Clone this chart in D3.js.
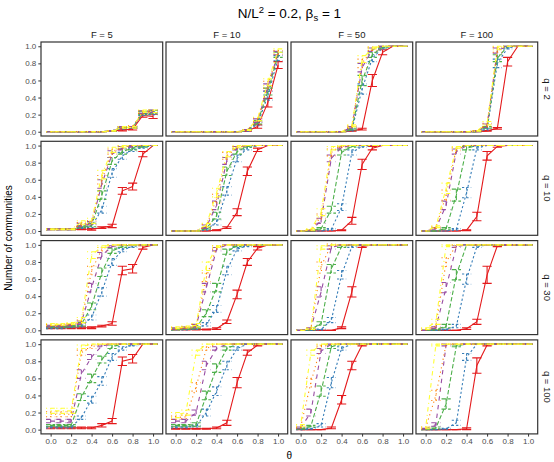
<!DOCTYPE html>
<html>
<head>
<meta charset="utf-8">
<script src="https://cdn.jsdelivr.net/npm/d3@7"></script>
<style>
  body { margin: 0; background: #fff; }
  text { font-family: "Liberation Sans", Arial, Helvetica, sans-serif; }
</style>
</head>
<body>
<svg id="chart" width="554" height="462"></svg>
<script>
// Proportion of communities vs theta, faceted by F (columns) and q (rows).
const theta = [0, 0.1, 0.2, 0.3, 0.4, 0.5, 0.6, 0.7, 0.8, 0.9, 1.0];
const fLabels = ["F = 5", "F = 10", "F = 50", "F = 100"];
const qLabels = ["q = 2", "q = 10", "q = 30", "q = 100"];
const axisTicks = [0, 0.2, 0.4, 0.6, 0.8, 1.0];
const seriesColors = ["#E41A1C", "#377EB8", "#4DAF4A", "#984EA3", "#FF7F00", "#FFFF33"];
const seriesDash = [null, "2.2,2.2", "4.4,2.2", "4.4,4.4", "1.1,3.3", "1.1,3.3,4.4,3.3"];

// Means, one row per series (red, blue, green, purple, orange, yellow)
const f5q2 = [
  [0,0,0,0,0,0,0.01,0.02,0.03,0.19,0.18],
  [0,0,0,0,0,0,0.01,0.04,0.05,0.21,0.22],
  [0,0,0,0,0,0,0.01,0.05,0.05,0.22,0.23],
  [0,0,0,0,0,0,0.01,0.05,0.05,0.23,0.24],
  [0,0,0,0,0,0,0.01,0.05,0.06,0.23,0.24],
  [0,0,0,0,0,0,0.01,0.05,0.05,0.24,0.24]];
const f10q2 = [
  [0,0,0,0,0,0,0,0.01,0.06,0.34,0.78],
  [0,0,0,0,0,0,0,0.01,0.09,0.42,0.86],
  [0,0,0,0,0,0,0,0.02,0.11,0.47,0.90],
  [0,0,0,0,0,0,0,0.02,0.13,0.52,0.92],
  [0,0,0,0,0,0,0,0.02,0.14,0.55,0.93],
  [0,0,0,0,0,0,0,0.02,0.15,0.58,0.95]];
const f50q2 = [
  [0,0,0,0,0,0.01,0.03,0.60,0.93,1,1],
  [0,0,0,0,0,0.02,0.50,0.86,0.98,1,1],
  [0,0,0,0,0,0.03,0.60,0.90,0.99,1,1],
  [0,0,0,0,0,0.05,0.75,0.96,1,1,1],
  [0,0,0,0,0,0.06,0.80,0.97,1,1,1],
  [0,0,0,0,0,0.07,0.85,0.98,1,1,1]];
const f100q2 = [
  [0,0,0,0,0,0,0.01,0.04,0.82,1,1],
  [0,0,0,0,0,0,0.03,0.80,0.98,1,1],
  [0,0,0,0,0,0,0.05,0.86,1,1,1],
  [0,0,0,0,0,0.01,0.07,0.95,1,1,1],
  [0,0,0,0,0,0.01,0.08,0.96,1,1,1],
  [0,0,0,0,0,0.01,0.10,0.98,1,1,1]];

const f5q10 = [
  [0.02,0.02,0.02,0.02,0.02,0.04,0.06,0.47,0.52,0.90,1],
  [0.02,0.02,0.02,0.04,0.06,0.25,0.68,0.88,0.95,0.98,1],
  [0.02,0.02,0.02,0.05,0.07,0.42,0.82,0.93,0.97,0.99,1],
  [0.02,0.02,0.02,0.07,0.09,0.55,0.90,0.97,0.99,1,1],
  [0.02,0.02,0.02,0.08,0.10,0.60,0.93,0.98,1,1,1],
  [0.02,0.02,0.02,0.10,0.12,0.66,0.95,0.99,1,1,1]];
const f10q10 = [
  [0,0,0,0,0.01,0.04,0.22,0.70,0.95,1,1],
  [0,0,0,0.02,0.10,0.47,0.85,0.97,1,1,1],
  [0,0,0,0.03,0.18,0.70,0.93,0.99,1,1,1],
  [0,0,0,0.05,0.30,0.82,0.97,1,1,1,1],
  [0,0,0,0.06,0.38,0.88,0.98,1,1,1,1],
  [0,0,0,0.07,0.45,0.90,0.99,1,1,1,1]];
const f50q10 = [
  [0,0,0,0,0.01,0.12,0.78,0.97,1,1,1],
  [0,0,0,0.02,0.28,0.92,0.99,1,1,1,1],
  [0,0,0.03,0.25,0.92,0.99,1,1,1,1,1],
  [0,0.01,0.12,0.85,0.98,1,1,1,1,1,1],
  [0,0.01,0.17,0.92,0.99,1,1,1,1,1,1],
  [0,0.02,0.22,0.97,1,1,1,1,1,1,1]];
const f100q10 = [
  [0,0,0,0,0.01,0.17,0.88,0.99,1,1,1],
  [0,0,0,0.02,0.45,0.97,1,1,1,1,1],
  [0,0,0.03,0.42,0.97,1,1,1,1,1,1],
  [0,0.03,0.30,0.93,1,1,1,1,1,1,1],
  [0,0.04,0.42,0.96,1,1,1,1,1,1,1],
  [0,0.05,0.50,0.98,1,1,1,1,1,1,1]];

const f5q30 = [
  [0.03,0.03,0.03,0.03,0.03,0.05,0.08,0.70,0.72,0.97,1],
  [0.03,0.03,0.04,0.05,0.15,0.45,0.80,0.94,0.98,1,1],
  [0.04,0.04,0.05,0.07,0.28,0.68,0.93,0.98,1,1,1],
  [0.05,0.05,0.06,0.09,0.50,0.88,0.98,1,1,1,1],
  [0.06,0.06,0.07,0.10,0.70,0.95,1,1,1,1,1],
  [0.07,0.07,0.08,0.12,0.88,0.98,1,1,1,1,1]];
const f10q30 = [
  [0.01,0.01,0.01,0.01,0.02,0.10,0.42,0.80,0.96,1,1],
  [0.01,0.01,0.02,0.07,0.25,0.70,0.95,0.99,1,1,1],
  [0.01,0.02,0.03,0.20,0.50,0.92,0.99,1,1,1,1],
  [0.02,0.03,0.05,0.50,0.95,1,1,1,1,1,1],
  [0.02,0.03,0.05,0.62,0.97,1,1,1,1,1,1],
  [0.03,0.04,0.06,0.75,0.98,1,1,1,1,1,1]];
const f50q30 = [
  [0,0,0,0,0.03,0.45,0.98,1,1,1,1],
  [0,0,0.01,0.12,0.65,0.98,1,1,1,1,1],
  [0,0.01,0.08,0.72,0.98,1,1,1,1,1,1],
  [0,0.02,0.45,0.97,1,1,1,1,1,1,1],
  [0,0.02,0.75,1,1,1,1,1,1,1,1],
  [0,0.02,0.97,1,1,1,1,1,1,1,1]];
const f100q30 = [
  [0,0,0,0,0.02,0.10,0.65,0.99,1,1,1],
  [0,0,0.01,0.05,0.60,0.98,1,1,1,1,1],
  [0,0.01,0.05,0.65,1,1,1,1,1,1,1],
  [0,0.03,0.50,0.98,1,1,1,1,1,1,1],
  [0.01,0.05,0.80,1,1,1,1,1,1,1,1],
  [0.02,0.10,0.99,1,1,1,1,1,1,1,1]];

const f5q100 = [
  [0.02,0.02,0.02,0.02,0.02,0.05,0.10,0.80,0.83,1,1],
  [0.03,0.03,0.03,0.14,0.35,0.57,0.85,0.95,0.99,1,1],
  [0.05,0.05,0.05,0.38,0.60,0.82,0.97,1,1,1,1],
  [0.10,0.10,0.10,0.65,0.85,0.98,1,1,1,1,1],
  [0.18,0.18,0.18,0.90,0.97,1,1,1,1,1,1],
  [0.22,0.22,0.22,0.97,1,1,1,1,1,1,1]];
const f10q100 = [
  [0.01,0.01,0.01,0.01,0.02,0.08,0.55,0.90,0.99,1,1],
  [0.03,0.03,0.04,0.20,0.45,0.75,0.95,1,1,1,1],
  [0.05,0.05,0.06,0.40,0.72,0.95,1,1,1,1,1],
  [0.10,0.10,0.20,0.75,0.95,1,1,1,1,1,1],
  [0.14,0.15,0.50,0.95,1,1,1,1,1,1,1],
  [0.17,0.20,0.90,1,1,1,1,1,1,1,1]];
const f50q100 = [
  [0,0,0,0.02,0.35,0.75,0.99,1,1,1,1],
  [0,0.01,0.05,0.55,0.95,1,1,1,1,1,1],
  [0.01,0.04,0.45,0.97,1,1,1,1,1,1,1],
  [0.02,0.20,0.92,1,1,1,1,1,1,1,1],
  [0.03,0.55,0.98,1,1,1,1,1,1,1,1],
  [0.05,0.90,1,1,1,1,1,1,1,1,1]];
const f100q100 = [
  [0,0,0,0,0.01,0.75,0.99,1,1,1,1],
  [0,0,0.01,0.08,0.85,1,1,1,1,1,1],
  [0,0.02,0.30,0.98,1,1,1,1,1,1,1],
  [0.01,0.06,0.99,1,1,1,1,1,1,1,1],
  [0.02,0.40,1,1,1,1,1,1,1,1,1],
  [0.02,0.99,1,1,1,1,1,1,1,1,1]];

// Standard errors, same layout as the means
const f5q2Err = [
  [0,0,0,0,0,0,0.005,0.01,0.01,0.02,0.025],
  [0,0,0,0,0,0,0.005,0.01,0.01,0.02,0.02],
  [0,0,0,0,0,0,0.005,0.01,0.01,0.02,0.02],
  [0,0,0,0,0,0,0.005,0.01,0.01,0.015,0.015],
  [0,0,0,0,0,0,0.005,0.01,0.01,0.015,0.015],
  [0,0,0,0,0,0,0.005,0.01,0.01,0.015,0.015]];
const f10q2Err = [
  [0,0,0,0,0,0,0,0.005,0.02,0.05,0.04],
  [0,0,0,0,0,0,0,0.005,0.02,0.05,0.03],
  [0,0,0,0,0,0,0,0.005,0.02,0.04,0.03],
  [0,0,0,0,0,0,0,0.005,0.02,0.04,0.02],
  [0,0,0,0,0,0,0,0.005,0.02,0.04,0.02],
  [0,0,0,0,0,0,0,0.005,0.02,0.04,0.02]];
const f50q2Err = [
  [0,0,0,0,0,0.005,0.01,0.07,0.03,0,0],
  [0,0,0,0,0,0.01,0.06,0.04,0.01,0,0],
  [0,0,0,0,0,0.01,0.06,0.03,0.01,0,0],
  [0,0,0,0,0,0.01,0.05,0.02,0,0,0],
  [0,0,0,0,0,0.01,0.05,0.02,0,0,0],
  [0,0,0,0,0,0.01,0.04,0.01,0,0,0]];
const f100q2Err = [
  [0,0,0,0,0,0,0.005,0.01,0.05,0,0],
  [0,0,0,0,0,0,0.01,0.05,0.01,0,0],
  [0,0,0,0,0,0,0.01,0.04,0,0,0],
  [0,0,0,0,0,0.005,0.02,0.03,0,0,0],
  [0,0,0,0,0,0.005,0.02,0.03,0,0,0],
  [0,0,0,0,0,0.005,0.02,0.02,0,0,0]];

const f5q10Err = [
  [0.005,0.005,0.005,0.005,0.01,0.01,0.02,0.04,0.04,0.03,0],
  [0.005,0.005,0.005,0.01,0.02,0.04,0.05,0.04,0.02,0.01,0],
  [0.005,0.005,0.005,0.01,0.02,0.05,0.04,0.03,0.02,0.01,0],
  [0.005,0.005,0.005,0.02,0.02,0.05,0.04,0.02,0.01,0,0],
  [0.005,0.005,0.005,0.02,0.02,0.05,0.03,0.02,0,0,0],
  [0.005,0.005,0.005,0.02,0.03,0.05,0.03,0.01,0,0,0]];
const f10q10Err = [
  [0,0,0,0,0.005,0.01,0.04,0.05,0.02,0,0],
  [0,0,0,0.01,0.03,0.05,0.04,0.02,0,0,0],
  [0,0,0,0.01,0.04,0.05,0.03,0.01,0,0,0],
  [0,0,0,0.02,0.05,0.04,0.02,0,0,0,0],
  [0,0,0,0.02,0.05,0.04,0.01,0,0,0,0],
  [0,0,0,0.02,0.05,0.03,0.01,0,0,0,0]];
const f50q10Err = [
  [0,0,0,0,0.005,0.04,0.06,0.02,0,0,0],
  [0,0,0,0.01,0.04,0.03,0.01,0,0,0,0],
  [0,0,0.01,0.04,0.03,0.01,0,0,0,0,0],
  [0,0.005,0.03,0.04,0.01,0,0,0,0,0,0],
  [0,0.005,0.03,0.04,0.01,0,0,0,0,0,0],
  [0,0.01,0.04,0.02,0,0,0,0,0,0,0]];
const f100q10Err = [
  [0,0,0,0,0.005,0.05,0.05,0.01,0,0,0],
  [0,0,0,0.01,0.06,0.02,0,0,0,0,0],
  [0,0,0.01,0.07,0.02,0,0,0,0,0,0],
  [0,0.01,0.05,0.03,0,0,0,0,0,0,0],
  [0,0.01,0.06,0.02,0,0,0,0,0,0,0],
  [0,0.01,0.06,0.01,0,0,0,0,0,0,0]];

const f5q30Err = [
  [0.01,0.01,0.01,0.01,0.01,0.01,0.02,0.05,0.05,0.02,0],
  [0.01,0.01,0.01,0.01,0.03,0.05,0.04,0.02,0.01,0,0],
  [0.01,0.01,0.01,0.02,0.04,0.05,0.03,0.01,0,0,0],
  [0.01,0.01,0.01,0.02,0.05,0.03,0.01,0,0,0,0],
  [0.01,0.01,0.01,0.02,0.05,0.02,0,0,0,0,0],
  [0.01,0.01,0.01,0.03,0.04,0.01,0,0,0,0,0]];
const f10q30Err = [
  [0.005,0.005,0.005,0.005,0.01,0.02,0.05,0.04,0.02,0,0],
  [0.005,0.005,0.01,0.02,0.04,0.05,0.02,0.01,0,0,0],
  [0.005,0.01,0.01,0.04,0.05,0.03,0.01,0,0,0,0],
  [0.01,0.01,0.02,0.05,0.02,0,0,0,0,0,0],
  [0.01,0.01,0.02,0.05,0.02,0,0,0,0,0,0],
  [0.01,0.01,0.02,0.05,0.01,0,0,0,0,0,0]];
const f50q30Err = [
  [0,0,0,0,0.01,0.06,0.01,0,0,0,0],
  [0,0,0.005,0.03,0.05,0.01,0,0,0,0,0],
  [0,0.005,0.02,0.05,0.01,0,0,0,0,0,0],
  [0,0.01,0.06,0.02,0,0,0,0,0,0,0],
  [0,0.01,0.05,0.01,0,0,0,0,0,0,0],
  [0,0.01,0.02,0,0,0,0,0,0,0,0]];
const f100q30Err = [
  [0,0,0,0,0.01,0.03,0.10,0.01,0,0,0],
  [0,0,0.005,0.02,0.06,0.01,0,0,0,0,0],
  [0,0.005,0.02,0.06,0,0,0,0,0,0,0],
  [0,0.01,0.06,0.01,0,0,0,0,0,0,0],
  [0.005,0.02,0.05,0,0,0,0,0,0,0,0],
  [0.01,0.03,0.01,0,0,0,0,0,0,0,0]];

const f5q100Err = [
  [0.01,0.01,0.01,0.01,0.01,0.02,0.03,0.05,0.05,0,0],
  [0.01,0.01,0.01,0.02,0.04,0.05,0.04,0.02,0.01,0,0],
  [0.01,0.01,0.01,0.04,0.05,0.04,0.02,0,0,0,0],
  [0.02,0.02,0.02,0.05,0.03,0.01,0,0,0,0,0],
  [0.03,0.03,0.03,0.03,0.02,0,0,0,0,0,0],
  [0.03,0.03,0.03,0.02,0,0,0,0,0,0,0]];
const f10q100Err = [
  [0.005,0.005,0.005,0.005,0.01,0.03,0.06,0.03,0.01,0,0],
  [0.01,0.01,0.01,0.04,0.05,0.05,0.02,0,0,0,0],
  [0.01,0.01,0.02,0.05,0.05,0.02,0,0,0,0,0],
  [0.02,0.02,0.03,0.05,0.02,0,0,0,0,0,0],
  [0.02,0.02,0.05,0.02,0,0,0,0,0,0,0],
  [0.03,0.03,0.03,0,0,0,0,0,0,0,0]];
const f50q100Err = [
  [0,0,0,0.01,0.05,0.05,0.01,0,0,0,0],
  [0,0.005,0.02,0.06,0.02,0,0,0,0,0,0],
  [0.005,0.01,0.06,0.02,0,0,0,0,0,0,0],
  [0.01,0.04,0.03,0,0,0,0,0,0,0,0],
  [0.01,0.05,0.01,0,0,0,0,0,0,0,0],
  [0.01,0.03,0,0,0,0,0,0,0,0,0]];
const f100q100Err = [
  [0,0,0,0,0.01,0.09,0.01,0,0,0,0],
  [0,0,0.005,0.03,0.04,0,0,0,0,0,0],
  [0,0.01,0.06,0.01,0,0,0,0,0,0,0],
  [0.005,0.02,0.01,0,0,0,0,0,0,0,0],
  [0.01,0.06,0,0,0,0,0,0,0,0,0],
  [0.01,0.01,0,0,0,0,0,0,0,0,0]];

// Grid of panels: rows are q, columns are F
const meanGrid = [
  [f5q2, f10q2, f50q2, f100q2],
  [f5q10, f10q10, f50q10, f100q10],
  [f5q30, f10q30, f50q30, f100q30],
  [f5q100, f10q100, f50q100, f100q100]];
const errGrid = [
  [f5q2Err, f10q2Err, f50q2Err, f100q2Err],
  [f5q10Err, f10q10Err, f50q10Err, f100q10Err],
  [f5q30Err, f10q30Err, f50q30Err, f100q30Err],
  [f5q100Err, f10q100Err, f50q100Err, f100q100Err]];

// Layout
const panelLeft0 = 41, colStep = 125, panelW = 121.7;
const panelTop0 = 42, rowStep = 99.3, panelH = 94;
const capHalf = 0.045;

const svg = d3.select("#chart");

const x = d3.scaleLinear().domain([-0.094, 1.094]).range([0, panelW]);
const y = d3.scaleLinear().domain([-0.05, 1.05]).range([panelH, 0]);

svg.append("defs").append("clipPath").attr("id", "panel-clip")
  .append("rect").attr("x", 0).attr("y", 0).attr("width", panelW).attr("height", panelH);

const line = d3.line().x((d, i) => x(theta[i])).y(d => y(d));

for (let r = 0; r < 4; r++) {
  for (let c = 0; c < 4; c++) {
    const left = panelLeft0 + c * colStep;
    const top = panelTop0 + r * rowStep;
    const g = svg.append("g").attr("transform", `translate(${left},${top})`);
    g.append("rect").attr("width", panelW).attr("height", panelH).attr("fill", "#fff");

    const plot = g.append("g").attr("clip-path", "url(#panel-clip)");
    const means = meanGrid[r][c];
    const errs = errGrid[r][c];

    means.forEach((vals, s) => {
      const sg = plot.append("g")
        .attr("stroke", seriesColors[s])
        .attr("stroke-width", 1.1)
        .attr("fill", "none");
      if (seriesDash[s]) sg.attr("stroke-dasharray", seriesDash[s]);
      sg.append("path").attr("d", line(vals));
      vals.forEach((v, i) => {
        const e = errs[s][i];
        const cx = x(theta[i]);
        sg.append("path").attr("d",
          `M${x(theta[i] - capHalf)},${y(v + e)}H${x(theta[i] + capHalf)}` +
          `M${cx},${y(v + e)}V${y(v - e)}` +
          `M${x(theta[i] - capHalf)},${y(v - e)}H${x(theta[i] + capHalf)}`);
      });
    });

    g.append("rect").attr("width", panelW).attr("height", panelH)
      .attr("fill", "none").attr("stroke", "#333").attr("stroke-width", 1.2);

    if (c === 0) {
      const ya = g.append("g").call(
        d3.axisLeft(y).tickValues(axisTicks).tickFormat(d3.format(".1f")).tickSize(2.7).tickPadding(2));
      ya.select(".domain").remove();
      ya.selectAll(".tick line").attr("stroke", "#333");
      ya.selectAll(".tick text").attr("fill", "#4D4D4D").style("font-size", "8px")
        .style("font-family", "'Liberation Sans', Arial, sans-serif");
    }
    if (r === 3) {
      const xa = g.append("g").attr("transform", `translate(0,${panelH})`).call(
        d3.axisBottom(x).tickValues(axisTicks).tickFormat(d3.format(".1f")).tickSize(2.7).tickPadding(2));
      xa.select(".domain").remove();
      xa.selectAll(".tick line").attr("stroke", "#333");
      xa.selectAll(".tick text").attr("fill", "#4D4D4D").style("font-size", "8px")
        .style("font-family", "'Liberation Sans', Arial, sans-serif");
    }
  }
}

// Column strips (F)
fLabels.forEach((lab, c) => {
  svg.append("text")
    .attr("x", panelLeft0 + c * colStep + panelW / 2)
    .attr("y", 38)
    .attr("text-anchor", "middle")
    .attr("fill", "#1A1A1A")
    .style("font-size", "9.5px")
    .text(lab);
});

// Row strips (q), reading top to bottom
qLabels.forEach((lab, r) => {
  const cy = panelTop0 + r * rowStep + panelH / 2;
  svg.append("text")
    .attr("transform", `translate(544,${cy}) rotate(90)`)
    .attr("text-anchor", "middle")
    .attr("fill", "#1A1A1A")
    .style("font-size", "9.5px")
    .text(lab);
});

// Title: N/L^2 = 0.2, beta_s = 1
const plotCenter = panelLeft0 + (3 * colStep + panelW) / 2;
const title = svg.append("text")
  .attr("x", plotCenter).attr("y", 18)
  .attr("text-anchor", "middle")
  .attr("fill", "#000")
  .style("font-size", "13.5px");
title.append("tspan").text("N/L");
title.append("tspan").attr("dy", -5).style("font-size", "9.5px").text("2");
title.append("tspan").attr("dy", 5).text(" = 0.2, \u03B2");
title.append("tspan").attr("dy", 3).style("font-size", "9.5px").text("s");
title.append("tspan").attr("dy", -3).text(" = 1");

// Axis titles
svg.append("text")
  .attr("transform", `translate(12,${panelTop0 + (3 * rowStep + panelH) / 2}) rotate(-90)`)
  .attr("text-anchor", "middle")
  .attr("fill", "#000")
  .style("font-size", "10px")
  .text("Number of communities");

svg.append("text")
  .attr("x", plotCenter).attr("y", 459)
  .attr("text-anchor", "middle")
  .attr("fill", "#000")
  .style("font-size", "10px")
  .text("\u03B8");
</script>
</body>
</html>
